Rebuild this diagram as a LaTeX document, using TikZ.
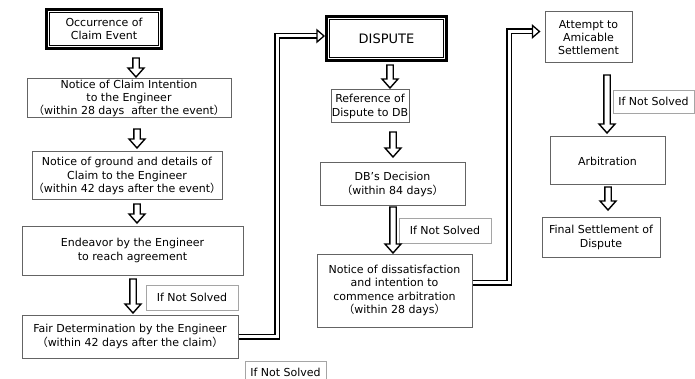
\documentclass[tikz,border=0pt]{standalone}
\usepackage{fontspec}
\setmainfont{DejaVu Sans}
\newfontfamily\cjk{Noto Sans CJK JP}
\usetikzlibrary{calc}
\newcommand\fwl{{\cjk （}}
\newcommand\fwr{{\cjk ）}}
\definecolor{boxgray}{RGB}{100,100,100}
\definecolor{notegray}{RGB}{165,165,165}
\tikzset{
  txt/.style={font=\fontsize{11}{13.3}\selectfont, text=black, align=center, inner sep=0pt},
  box/.style={txt, draw=boxgray, line width=1pt},
  notebox/.style={txt, draw=notegray, line width=0.9pt},
  thickbox/.style={txt, draw=black, line width=3pt},
  harrow/.style={draw=black, fill=white, line width=1.4pt, line join=miter},
  dblline/.style={draw=black, double=white, double distance=3pt, line width=1.5pt, line join=miter},
  headtri/.style={draw=black, fill=white, line width=1.3pt, line join=miter},
}
% down arrow: src, dst, x (px), top gap, bottom gap
\newcommand\dnarrow[5]{%
  \draw[harrow] let \p1=(#1.south), \p2=(#2.north), \p3=(#3,0) in
    (\x3-3.2pt,\y1-#4pt) -- (\x3-3.2pt,\y2+#5pt+9pt) -- (\x3-8pt,\y2+#5pt+9pt)
    -- (\x3,\y2+#5pt) -- (\x3+8pt,\y2+#5pt+9pt) -- (\x3+3.2pt,\y2+#5pt+9pt)
    -- (\x3+3.2pt,\y1-#4pt) -- cycle;}
\begin{document}
\begin{tikzpicture}[x=1pt,y=-1pt]
\useasboundingbox (0,0) rectangle (695,379);
% left column
\node[thickbox, minimum width=115pt, minimum height=39pt] (occ) at (104,29) {Occurrence of\\Claim Event};
\draw[black, line width=1pt] ([shift={(4.2pt,-4.2pt)}]occ.north west) rectangle ([shift={(-4.2pt,4.2pt)}]occ.south east);
\node[box, minimum width=204pt, minimum height=39pt] (n1) at (129,98.5) {Notice of Claim Intention\\to the Engineer\\\fwl within 28 days\ \ after the event\fwr};
\node[box, minimum width=190pt, minimum height=48pt] (n2) at (127,176) {Notice of ground and details of\\Claim to the Engineer\\\fwl within 42 days after the event\fwr};
\node[box, minimum width=221pt, minimum height=49pt] (end) at (132.5,250.5) {Endeavor by the Engineer\\to reach agreement};
\node[box, minimum width=216pt, minimum height=43pt] (fair) at (130,336.5) {Fair Determination by the Engineer\\\fwl within 42 days after the claim\fwr};
\node[notebox, minimum width=92pt, minimum height=25pt] (ns1) at (192,297.5) {If Not Solved};
\node[notebox, minimum width=81pt, minimum height=21pt] (ns2) at (285.5,372) {If Not Solved};
% middle column
\node[thickbox, minimum width=120pt, minimum height=44pt, font=\fontsize{13}{15}\selectfont] (dispute) at (386.5,38.5) {DISPUTE};
\draw[black, line width=1pt] ([shift={(4.2pt,-4.2pt)}]dispute.north west) rectangle ([shift={(-4.2pt,4.2pt)}]dispute.south east);
\node[box, minimum width=78pt, minimum height=33pt] (ref) at (370,106.5) {Reference of\\Dispute to DB};
\node[box, minimum width=145pt, minimum height=43pt] (db) at (392.5,184.5) {DB’s Decision\\\fwl within 84 days\fwr};
\node[notebox, minimum width=92pt, minimum height=25pt] (ns3) at (445,230.5) {If Not Solved};
\node[box, minimum width=155pt, minimum height=73pt] (n3) at (394.5,290.5) {Notice of dissatisfaction\\and intention to\\commence arbitration\\\fwl within 28 days\fwr};
% right column
\node[box, minimum width=87pt, minimum height=51pt] (attempt) at (588.5,37.5) {Attempt to\\Amicable\\Settlement};
\node[notebox, minimum width=81pt, minimum height=23pt] (ns4) at (653.5,101.5) {If Not Solved};
\node[box, minimum width=115pt, minimum height=48pt] (arb) at (607.5,161) {Arbitration};
\node[box, minimum width=118pt, minimum height=39pt] (final) at (601,237.5) {Final Settlement of\\Dispute};
% down arrows
\dnarrow{occ}{n1}{136}{8}{1.5}
\dnarrow{n1}{n2}{137}{10.5}{3.5}
\dnarrow{n2}{end}{137}{3.5}{2.5}
\dnarrow{end}{fair}{133}{3.5}{1.5}
\dnarrow{dispute}{ref}{390}{3}{1.5}
\dnarrow{ref}{db}{393}{8.5}{5.5}
\dnarrow{db}{n3}{393}{0.5}{0.5}
\dnarrow{attempt}{arb}{607}{11.5}{3.5}
\dnarrow{arb}{final}{608}{1.5}{7.5}
% elbow connectors
\coordinate (j1) at (277,0);
\coordinate (b1) at ([xshift=-8pt,yshift=2.5pt]dispute.west);
\coordinate (t1) at ([xshift=-1pt,yshift=2.5pt]dispute.west);
\draw[dblline] (fair.east) -| (j1 |- b1) -- (b1);
\draw[headtri] ([yshift=6pt]b1) -- (t1) -- ([yshift=-6pt]b1) -- cycle;
\coordinate (j2) at (509,0);
\coordinate (b2) at ([xshift=-12pt,yshift=6pt]attempt.west);
\coordinate (t2) at ([xshift=-5pt,yshift=6pt]attempt.west);
\draw[dblline] ([yshift=8pt]n3.east) -| (j2 |- b2) -- (b2);
\draw[headtri] ([yshift=6pt]b2) -- (t2) -- ([yshift=-6pt]b2) -- cycle;
\end{tikzpicture}
\end{document}
